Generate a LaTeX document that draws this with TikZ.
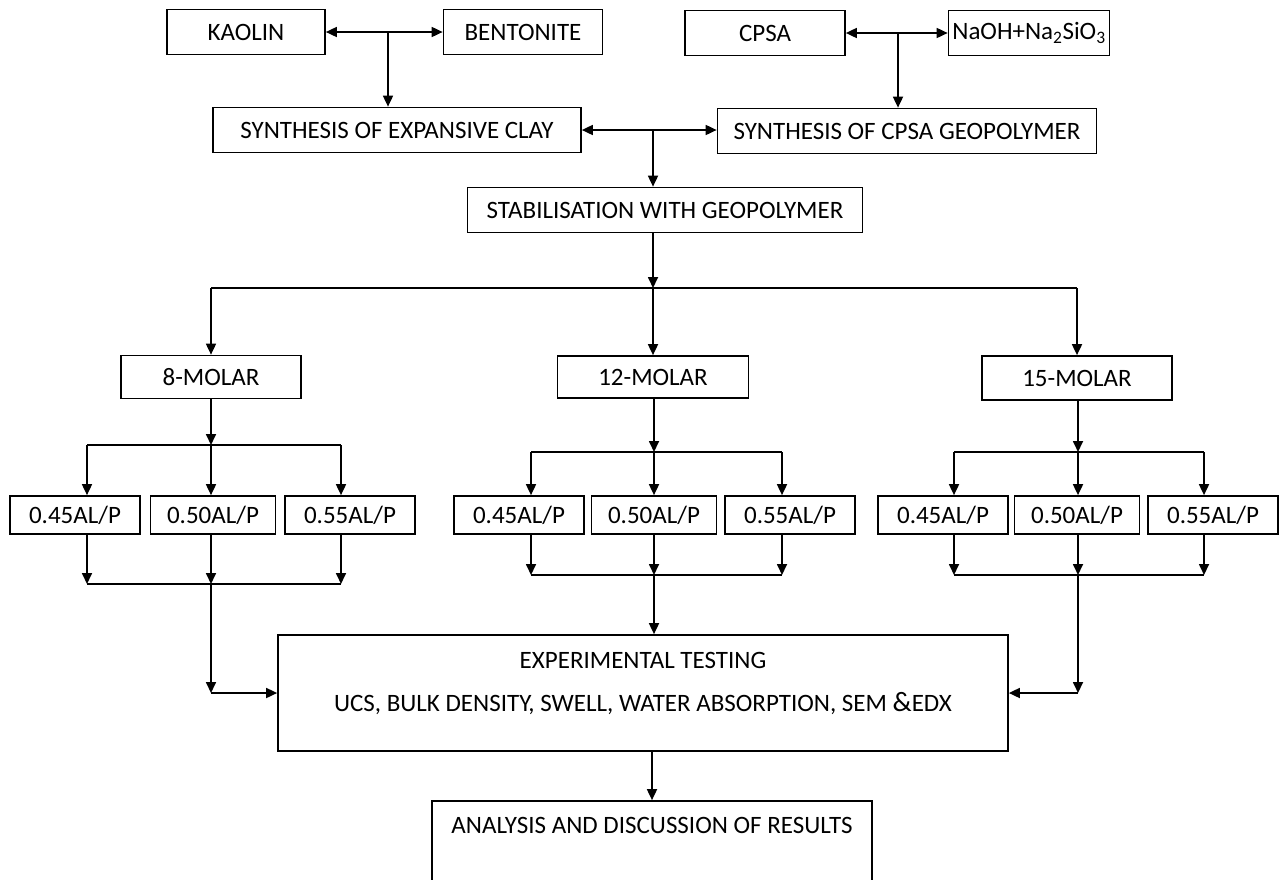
\documentclass[tikz,border=0pt]{standalone}
\usepackage{fontspec}
\setmainfont{Carlito}
\usepackage{tikz}
\usetikzlibrary{arrows.meta, positioning}

\begin{document}
\begin{tikzpicture}[x=1pt, y=-1pt,
        every node/.style={font=\fontsize{25}{29}\selectfont},
        box/.style={draw, line width=1.7pt, inner sep=0pt, minimum height=45},
        ratio/.style={box, minimum width=130, minimum height=38},
        arr/.style={line width=1.7pt, -{Triangle[length=11pt,width=10pt]}},
        twoway/.style={line width=1.7pt, {Triangle[length=11pt,width=10pt]}-{Triangle[length=11pt,width=10pt]}}]
    \useasboundingbox (0,0) rectangle (1279,879);
    \clip (0,0) rectangle (1279,879);
    \fill[white] (0,0) rectangle (1279,879);

    % raw materials
    \node[box, minimum width=158] (kaolin) at (246,32) {KAOLIN};
    \node[box, minimum width=159] (bentonite) at (523,32) {BENTONITE};
    \node[box, minimum width=160] (cpsa) at (765,33) {CPSA};
    \node[box, minimum width=161] (naoh) at (1029,33) {NaOH+Na\textsubscript{2}SiO\textsubscript{3}};

    \node[box, minimum width=368] (clay) at (397,130) {SYNTHESIS OF EXPANSIVE CLAY};
    \node[box, minimum width=379] (geo) at (907,131) {SYNTHESIS OF CPSA GEOPOLYMER};
    \node[box, minimum width=395] (stab) at (665,210) {STABILISATION WITH GEOPOLYMER};

    \coordinate (kb) at (388,32);
    \coordinate (cn) at (898,33);
    \coordinate (sg) at (653,131);
    \coordinate (sp) at (653,288);

    \draw[twoway] (kaolin) -- (bentonite);
    \draw[arr] (kb) -- (kb |- clay.north);
    \draw[twoway] (cpsa) -- (naoh);
    \draw[arr] (cn) -- (cn |- geo.north);
    \draw[twoway] (clay.east) -- (clay.east -| geo.west);
    \draw[arr] (sg) -- (sg |- stab.north);
    \draw[arr] (stab.south -| sp) -- (sp);

    % molarities
    \node[box, minimum width=180, minimum height=43] (m8) at (211,377) {8-MOLAR};
    \node[box, minimum width=191, minimum height=42] (m12) at (653,377) {12-MOLAR};
    \node[box, minimum width=190, minimum height=44] (m15) at (1077,378) {15-MOLAR};

    \draw[line width=1.7pt] (m8 |- sp) -- (m15 |- sp);
    \foreach \g in {8,12,15}
        \draw[arr] (m\g |- sp) -- (m\g.north);

    % AL/P ratios per molarity
    \foreach \g/\up/\dn/\ax/\bx/\cx/\pa/\pb/\pc in {8/445/584/87/211/341/75/213/350,
            12/452/575/531/654/782/519/654/790, 15/452/575/954/1078/1204/943/1077/1213} {
        \node[ratio] (r\g a) at (\pa,515) {0.45AL/P};
        \node[ratio, minimum width=125] (r\g b) at (\pb,515) {0.50AL/P};
        \node[ratio] (r\g c) at (\pc,515) {0.55AL/P};
        \coordinate (t\g a) at (\ax,\up);
        \coordinate (t\g b) at (\bx,\up);
        \coordinate (t\g c) at (\cx,\up);
        \coordinate (u\g a) at (\ax,\dn);
        \coordinate (u\g b) at (\bx,\dn);
        \coordinate (u\g c) at (\cx,\dn);
        \draw[arr] (m\g.south -| t\g b) -- (t\g b);
        \draw[line width=1.7pt] (t\g a) -- (t\g c);
        \draw[line width=1.7pt] (u\g a) -- (u\g c);
        \foreach \k in {a,b,c} {
            \draw[arr] (t\g\k) -- (t\g\k |- r\g\k.north);
            \draw[arr] (r\g\k.south -| u\g\k) -- (u\g\k);
        }
    }

    % testing and results
    \node[box, minimum width=730, minimum height=116] (exp) at (643,693) {};
    \node (exptitle) at ([yshift=-26pt]exp.north) {EXPERIMENTAL TESTING};
    \node (exptests) at ([yshift=-69pt]exp.north) {UCS, BULK DENSITY, SWELL, WATER ABSORPTION, SEM {\fontsize{28}{30}\selectfont\&}EDX};

    \node[box, minimum width=440, minimum height=120] (res) at (652,861) {};
    \node (restitle) at ([yshift=-25pt]res.north) {ANALYSIS AND DISCUSSION OF RESULTS};

    \coordinate (j8) at (211,693);
    \coordinate (j15) at (1078,693);
    \draw[arr] (u8b) -- (j8);
    \draw[arr] (j8) -- (j8 -| exp.west);
    \draw[arr] (u12b) -- (u12b |- exp.north);
    \draw[arr] (u15b) -- (j15);
    \draw[arr] (j15) -- (j15 -| exp.east);
    \draw[arr] (exp.south -| res.north) -- (res.north);
\end{tikzpicture}
\end{document}
